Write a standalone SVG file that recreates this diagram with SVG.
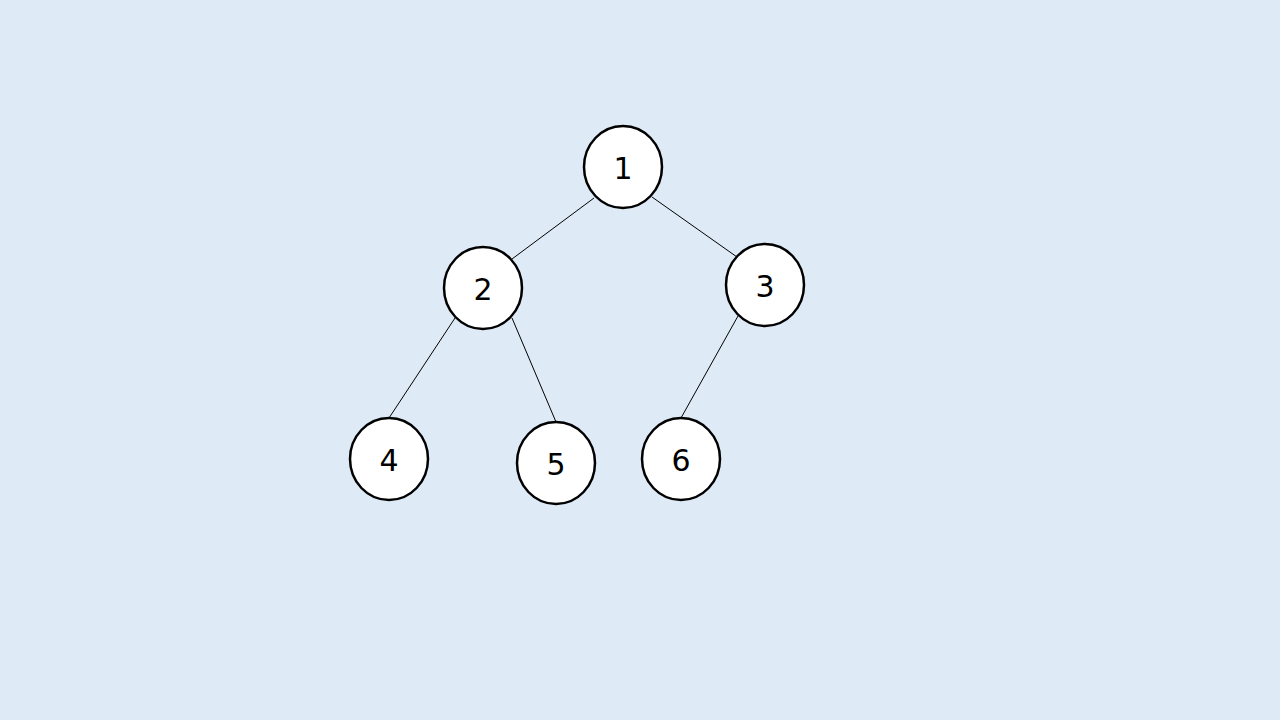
<svg xmlns="http://www.w3.org/2000/svg" width="1280" height="720" viewBox="0 0 1280 720">
<style>
.n ellipse{fill:#fff;stroke:#000;stroke-width:2.5}
.n text{font-family:"DejaVu Sans",sans-serif;font-size:30px;text-anchor:middle;dominant-baseline:central;fill:#000}
.c line{stroke:#000;stroke-width:1}
</style>
<rect width="1280" height="720" fill="#DEEAF6"/>
<g class="c" id="connectors">
<line x1="594" y1="198" x2="512" y2="259"/>
<line x1="652" y1="197" x2="737" y2="257"/>
<line x1="455" y1="318" x2="389" y2="418"/>
<line x1="512" y1="318" x2="556" y2="422"/>
<line x1="738" y1="316" x2="681" y2="418"/>
</g>
<g class="n" id="n1"><ellipse cx="623" cy="167" rx="39" ry="41"/><text x="623" y="168">1</text></g>
<g class="n" id="n2"><ellipse cx="483" cy="288" rx="39" ry="41"/><text x="483" y="289">2</text></g>
<g class="n" id="n3"><ellipse cx="765" cy="285" rx="39" ry="41"/><text x="765" y="286">3</text></g>
<g class="n" id="n4"><ellipse cx="389" cy="459" rx="39" ry="41"/><text x="389" y="460">4</text></g>
<g class="n" id="n5"><ellipse cx="556" cy="463" rx="39" ry="41"/><text x="556" y="464">5</text></g>
<g class="n" id="n6"><ellipse cx="681" cy="459" rx="39" ry="41"/><text x="681" y="460">6</text></g>
</svg>
